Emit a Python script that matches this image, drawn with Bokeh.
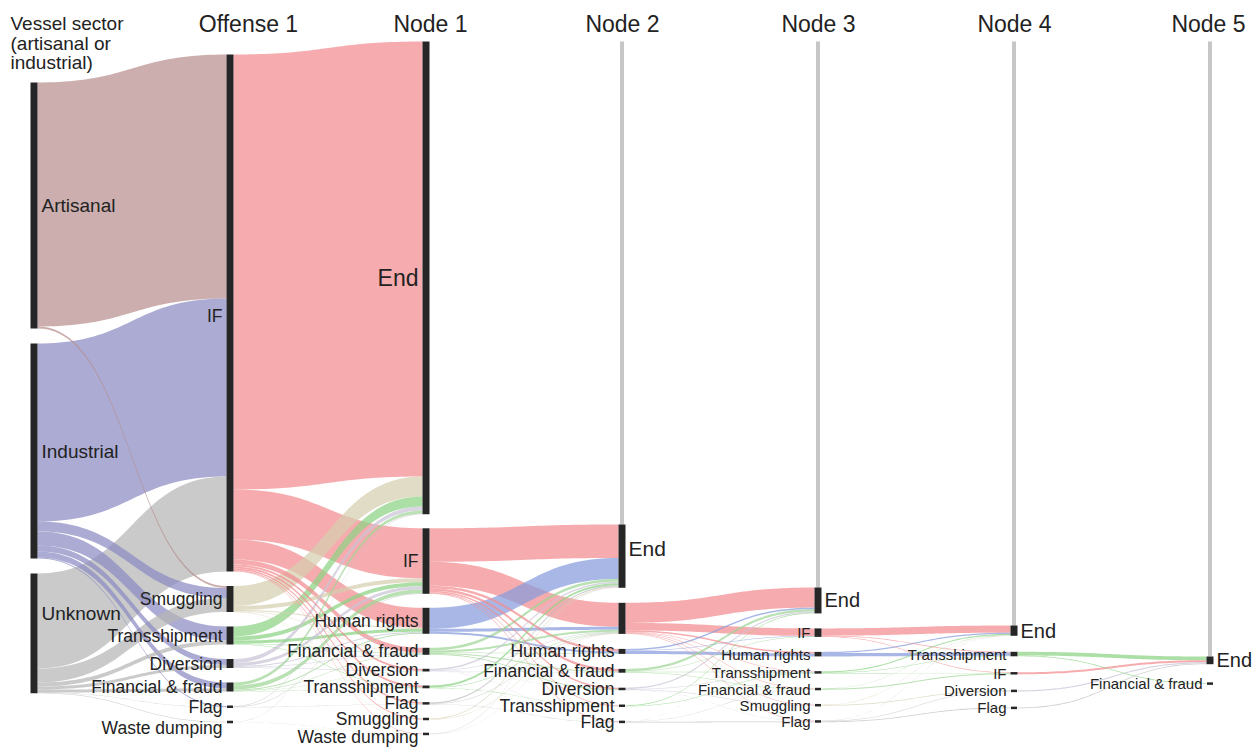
import numpy as np
from bokeh.plotting import figure
from bokeh.models import Range1d, ColumnDataSource
from bokeh.core.properties import value
from bokeh.embed import file_html
from bokeh.resources import INLINE

# ---------------- data ----------------
column_titles = ["Offense 1", "Node 1", "Node 2", "Node 3", "Node 4", "Node 5"]
sector_title = ["Vessel sector", "(artisanal or", "industrial)"]

nodes_sector = ["Artisanal", "Industrial", "Unknown"]
nodes_offense1 = ["IF", "Smuggling", "Transshipment", "Diversion", "Financial & fraud", "Flag", "Waste dumping"]
nodes_node1 = ["End", "IF", "Human rights", "Financial & fraud", "Diversion", "Transshipment", "Flag", "Smuggling", "Waste dumping"]
nodes_node2 = ["End", "IF", "Human rights", "Financial & fraud", "Diversion", "Transshipment", "Flag"]
nodes_node3 = ["End", "IF", "Human rights", "Transshipment", "Financial & fraud", "Smuggling", "Flag"]
nodes_node4 = ["End", "Transshipment", "IF", "Diversion", "Flag"]
nodes_node5 = ["End", "Financial & fraud"]

links_sector_offense1 = [
    ("Artisanal", "IF", 244), ("Artisanal", "Smuggling", 2),
    ("Industrial", "IF", 178), ("Industrial", "Smuggling", 10), ("Industrial", "Transshipment", 14),
    ("Industrial", "Diversion", 6), ("Industrial", "Financial & fraud", 6), ("Industrial", "Flag", 1),
    ("Unknown", "IF", 95), ("Unknown", "Smuggling", 14), ("Unknown", "Transshipment", 4),
    ("Unknown", "Diversion", 3), ("Unknown", "Financial & fraud", 3), ("Unknown", "Flag", 0.3),
    ("Unknown", "Waste dumping", 0.5),
]
links_offense1_node1 = [
    ("IF", "End", 435), ("IF", "IF", 50), ("IF", "Human rights", 20), ("IF", "Financial & fraud", 5),
    ("IF", "Diversion", 2), ("IF", "Transshipment", 2), ("IF", "Flag", 1.5), ("IF", "Smuggling", 1),
    ("IF", "Waste dumping", 0.5),
    ("Smuggling", "End", 20), ("Smuggling", "IF", 4), ("Smuggling", "Human rights", 1),
    ("Smuggling", "Financial & fraud", 0.5), ("Smuggling", "Flag", 0.3), ("Smuggling", "Smuggling", 0.2),
    ("Transshipment", "End", 10), ("Transshipment", "IF", 4), ("Transshipment", "Human rights", 3),
    ("Transshipment", "Financial & fraud", 0.5), ("Transshipment", "Transshipment", 0.5),
    ("Diversion", "End", 4), ("Diversion", "IF", 3), ("Diversion", "Human rights", 1),
    ("Diversion", "Financial & fraud", 0.5), ("Diversion", "Diversion", 0.5),
    ("Financial & fraud", "End", 3), ("Financial & fraud", "IF", 4), ("Financial & fraud", "Human rights", 1),
    ("Financial & fraud", "Financial & fraud", 0.5), ("Financial & fraud", "Transshipment", 0.3),
    ("Financial & fraud", "Diversion", 0.2),
    ("Flag", "End", 0.5), ("Flag", "IF", 0.5), ("Flag", "Flag", 0.3),
    ("Waste dumping", "End", 0.3), ("Waste dumping", "Waste dumping", 0.2),
]
links_node1_node2 = [
    ("IF", "End", 33.5), ("IF", "IF", 24), ("IF", "Human rights", 2.5), ("IF", "Financial & fraud", 2.5),
    ("IF", "Diversion", 1.5), ("IF", "Transshipment", 0.8), ("IF", "Flag", 0.7),
    ("Human rights", "End", 21), ("Human rights", "IF", 3), ("Human rights", "Human rights", 2),
    ("Financial & fraud", "End", 2.7), ("Financial & fraud", "IF", 2), ("Financial & fraud", "Human rights", 0.5),
    ("Financial & fraud", "Financial & fraud", 1), ("Financial & fraud", "Diversion", 0.8),
    ("Diversion", "End", 1.5), ("Diversion", "IF", 0.5), ("Diversion", "Financial & fraud", 0.3),
    ("Diversion", "Diversion", 0.2), ("Diversion", "Flag", 0.2),
    ("Transshipment", "End", 2), ("Transshipment", "IF", 0.5), ("Transshipment", "Transshipment", 0.3),
    ("Flag", "End", 1.3), ("Flag", "IF", 0.5), ("Flag", "Flag", 0.3),
    ("Smuggling", "End", 0.8), ("Smuggling", "IF", 0.4),
    ("Waste dumping", "End", 0.5), ("Waste dumping", "IF", 0.2),
]
links_node2_node3 = [
    ("IF", "End", 20.1), ("IF", "IF", 7.5), ("IF", "Human rights", 1.5), ("IF", "Transshipment", 0.5),
    ("IF", "Financial & fraud", 0.5), ("IF", "Smuggling", 0.5), ("IF", "Flag", 0.5),
    ("Human rights", "End", 1.5), ("Human rights", "IF", 0.5), ("Human rights", "Human rights", 3),
    ("Financial & fraud", "End", 2.3), ("Financial & fraud", "IF", 0.5),
    ("Financial & fraud", "Transshipment", 0.5), ("Financial & fraud", "Financial & fraud", 0.5),
    ("Diversion", "End", 1.3), ("Diversion", "Transshipment", 0.5), ("Diversion", "Smuggling", 0.5),
    ("Diversion", "Flag", 0.2),
    ("Transshipment", "End", 0.6), ("Transshipment", "Transshipment", 0.5),
    ("Flag", "End", 0.1), ("Flag", "Financial & fraud", 0.3), ("Flag", "Flag", 0.8),
]
links_node3_node4 = [
    ("IF", "End", 7.2), ("IF", "Transshipment", 0.7), ("IF", "IF", 0.6),
    ("Human rights", "End", 1.2), ("Human rights", "Transshipment", 3.3),
    ("Transshipment", "End", 1.1), ("Transshipment", "Transshipment", 0.5), ("Transshipment", "IF", 0.4),
    ("Financial & fraud", "End", 0.3), ("Financial & fraud", "IF", 1.0),
    ("Smuggling", "End", 0.3), ("Smuggling", "Diversion", 0.7),
    ("Flag", "End", 0.2), ("Flag", "Diversion", 0.5), ("Flag", "Flag", 0.8),
]
links_node4_node5 = [
    ("Transshipment", "End", 3.7), ("Transshipment", "Financial & fraud", 0.8),
    ("IF", "End", 2.0), ("Diversion", "End", 1.2), ("Flag", "End", 0.8),
]

# ---------------- styling / layout ----------------
sector_colors = {"Artisanal": "#B78F8E", "Industrial": "#8B8BC3", "Unknown": "#B6B6B6"}
offense_colors = {
    "IF": "#F28C90", "Human rights": "#869BDB", "Transshipment": "#8CD384",
    "Smuggling": "#D6CEAE", "Financial & fraud": "#9FD596", "Diversion": "#C9C3D6",
    "Flag": "#BDBDBD", "Waste dumping": "#CCCCCC",
}
FONT = "Liberation Sans"
TXT = "#222222"
BAR = "#262626"
W, H = 1255, 748
BAR_W = 7
col_x = [33.5 + 196 * i for i in range(7)]
col_top = [82, 54, 41, 524, 587, 625, 656]
col_gap = [15, 14.5, 14, 15, 15, 16, 19]
label_size = ["19px", "17.5px", "17.5px", "17.5px", "15px", "15px", "15px"]
end_size = ["", "", "23px", "21px", "20px", "20px", "20px"]
label_dy = {(0, "Unknown"): -20, (3, "End"): -8, (2, "Waste dumping"): 3, (1, "Waste dumping"): 6,
            (1, "IF"): 3}
hidden_labels = {(3, "IF")}

col_nodes = [nodes_sector, nodes_offense1, nodes_node1, nodes_node2, nodes_node3, nodes_node4, nodes_node5]
stages = [links_sector_offense1, links_offense1_node1, links_node1_node2,
          links_node2_node3, links_node3_node4, links_node4_node5]

# node sizes
inflow = [dict.fromkeys(ns, 0.0) for ns in col_nodes]
outflow = [dict.fromkeys(ns, 0.0) for ns in col_nodes]
for c, links in enumerate(stages):
    for s, t, v in links:
        outflow[c][s] += v
        inflow[c + 1][t] += v
size = [{n: max(inflow[c][n], outflow[c][n]) for n in ns} for c, ns in enumerate(col_nodes)]

# node positions (stacked)
ypos = []
for c, ns in enumerate(col_nodes):
    y = col_top[c]
    d = {}
    for n in ns:
        d[n] = y
        y += size[c][n] + col_gap[c]
    ypos.append(d)

p = figure(width=W, height=H, x_range=Range1d(0, W), y_range=Range1d(H, 0),
           output_backend="svg", toolbar_location=None, min_border=0,
           x_axis_location=None, y_axis_location=None)
p.grid.visible = False
p.outline_line_color = None
p.background_fill_color = "white"

# grey guide lines above End nodes
gx, gy0, gy1 = [], [], []
for c in range(3, 7):
    gx.append(col_x[c]); gy0.append(41); gy1.append(ypos[c]["End"])
p.segment(x0=gx, y0=gy0, x1=gx, y1=gy1, line_color="#C6C6C6", line_width=4)

# links
tt = np.linspace(0, 1, 48)
ease = 3 * tt ** 2 - 2 * tt ** 3
xs, ys, cols, vals = [], [], [], []
for c, links in enumerate(stages):
    src_idx = {n: i for i, n in enumerate(col_nodes[c])}
    tgt_idx = {n: i for i, n in enumerate(col_nodes[c + 1])}
    s_off = dict(ypos[c])
    t_off = dict(ypos[c + 1])
    by_src = sorted(links, key=lambda l: (src_idx[l[0]], tgt_idx[l[1]]))
    sy = {}
    for s, t, v in by_src:
        sy[(s, t)] = s_off[s]
        s_off[s] += v
    by_tgt = sorted(links, key=lambda l: (tgt_idx[l[1]], src_idx[l[0]]))
    ty = {}
    for s, t, v in by_tgt:
        ty[(s, t)] = t_off[t]
        t_off[t] += v
    x0 = col_x[c] + BAR_W / 2
    x1 = col_x[c + 1] - BAR_W / 2
    xm = (x0 + x1) / 2
    xb = (1 - tt) ** 3 * x0 + 3 * (1 - tt) ** 2 * tt * xm + 3 * (1 - tt) * tt ** 2 * xm + tt ** 3 * x1
    for s, t, v in links:
        a, b = sy[(s, t)], ty[(s, t)]
        top = a + (b - a) * ease
        bot = top + v
        xs.append(np.concatenate([xb, xb[::-1]]))
        ys.append(np.concatenate([top, bot[::-1]]))
        cols.append(sector_colors[s] if c == 0 else offense_colors[s])
        vals.append(v)

order = np.argsort(-np.array(vals), kind="stable")
link_src = ColumnDataSource(dict(xs=[xs[i] for i in order], ys=[ys[i] for i in order],
                                 color=[cols[i] for i in order]))
p.patches(xs="xs", ys="ys", source=link_src, fill_color="color", fill_alpha=0.72, line_color=None)

# node bars
bx, by, bh, bw = [], [], [], []
for c, ns in enumerate(col_nodes):
    for n in ns:
        h = max(size[c][n], 2.5)
        bx.append(col_x[c]); by.append(ypos[c][n] + size[c][n] / 2); bh.append(h)
        bw.append(BAR_W if size[c][n] >= 2 else BAR_W - 1)
p.rect(x=bx, y=by, width=bw, height=bh, fill_color=BAR, line_color=None)

# node labels
def add_text(xv, yv, txt, align, fsize, baseline="middle"):
    p.text(x=[xv], y=[yv], text=[txt], text_align=align, text_baseline=baseline,
           text_font=value(FONT), text_font_size=value(fsize), text_color=TXT)

for c, ns in enumerate(col_nodes):
    for n in ns:
        if (c, n) in hidden_labels:
            continue
        yc = ypos[c][n] + size[c][n] / 2 + label_dy.get((c, n), 0)
        if c == 0:
            add_text(col_x[c] + BAR_W / 2 + 4, yc, n, "left", label_size[c])
        elif n == "End" and c >= 3:
            add_text(col_x[c] + BAR_W / 2 + 3, yc, n, "left", end_size[c])
        elif n == "End":
            add_text(col_x[c] - BAR_W / 2 - 4, yc, n, "right", end_size[c])
        else:
            add_text(col_x[c] - BAR_W / 2 - 4, yc, n, "right", label_size[c])

# column titles
title_x = [248, 430, 622, 818, 1014, 1208]
for tx, title in zip(title_x, column_titles):
    add_text(tx, 23, title, "center", "23px")
for i, line in enumerate(sector_title):
    add_text(10, 23 + 19.5 * i, line, "left", "19px")

open("out.html", "w").write(file_html(p, INLINE))
